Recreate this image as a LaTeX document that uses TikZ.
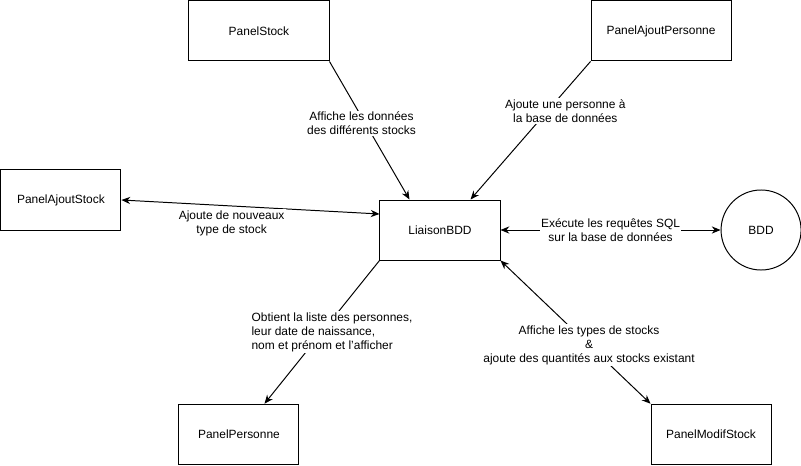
\documentclass[tikz,border=0pt]{standalone}
\usepackage{fontspec}
\setmainfont{Liberation Sans}
\usetikzlibrary{arrows.meta,positioning}

\begin{document}
\begin{tikzpicture}[
    x=0.025cm, y=-0.025cm,
    font=\fontsize{8.5}{10}\selectfont,
    bx/.style={draw,line width=0.7pt,minimum width=3cm,minimum height=1.5cm,align=center},
    db/.style={draw,circle,line width=0.7pt,minimum size=2cm},
    lbl/.style={fill=white,inner sep=1pt,align=center},
    ar/.style={-{Stealth[length=2.2mm,width=1.8mm]},line width=0.7pt},
    bar/.style={{Stealth[length=2.2mm,width=1.8mm]}-{Stealth[length=2.2mm,width=1.8mm]},line width=0.7pt}
]
\useasboundingbox (0,0) rectangle (801,466);
\node[bx] (liaison) at (440,230) {LiaisonBDD};
\node[db,right=5.5cm of liaison] (bdd) {BDD};
\node[bx,minimum width=3.5cm,above left=3.45cm and 1.25cm of liaison] (pstock) {PanelStock};
\node[bx,minimum width=3.5cm,above right=3.45cm and 2.25cm of liaison] (pajoutpers) {PanelAjoutPersonne};
\node[bx,left=6.45cm of liaison,yshift=0.75cm] (pajoutstock) {PanelAjoutStock};
\node[bx,below left=3.58cm and 2cm of liaison] (ppers) {PanelPersonne};
\node[bx,below right=3.58cm and 3.75cm of liaison] (pmodif) {PanelModifStock};

\draw[ar] (pstock.south east) -- node[lbl,pos=0.45,xshift=-0.1cm] {Affiche les données\\des différents stocks} ([xshift=0.75cm]liaison.north west);
\draw[ar] (pajoutpers.south west) -- node[lbl,pos=0.36,xshift=0.45cm] {Ajoute une personne à\\la base de données} ([xshift=-0.75cm]liaison.north east);
\draw[bar] ([yshift=0.4cm]liaison.west) -- node[lbl,pos=0.573,yshift=-0.425cm] {Ajoute de nouveaux\\type de stock} (pajoutstock.east);
\draw[bar] (liaison.east) -- node[lbl] {Exécute les requêtes SQL\\sur la base de données} (bdd.west);
\draw[ar] (liaison.south west) -- node[lbl,pos=0.5,xshift=0.25cm,align=left] {Obtient la liste des personnes,\\leur date de naissance,\\nom et prénom et l'afficher} ([xshift=-0.875cm]ppers.north east);
\draw[bar] (pmodif.north west) -- node[lbl,pos=0.41] {Affiche les types de stocks\\\&\\ajoute des quantités aux stocks existant} (liaison.south east);
\end{tikzpicture}
\end{document}
